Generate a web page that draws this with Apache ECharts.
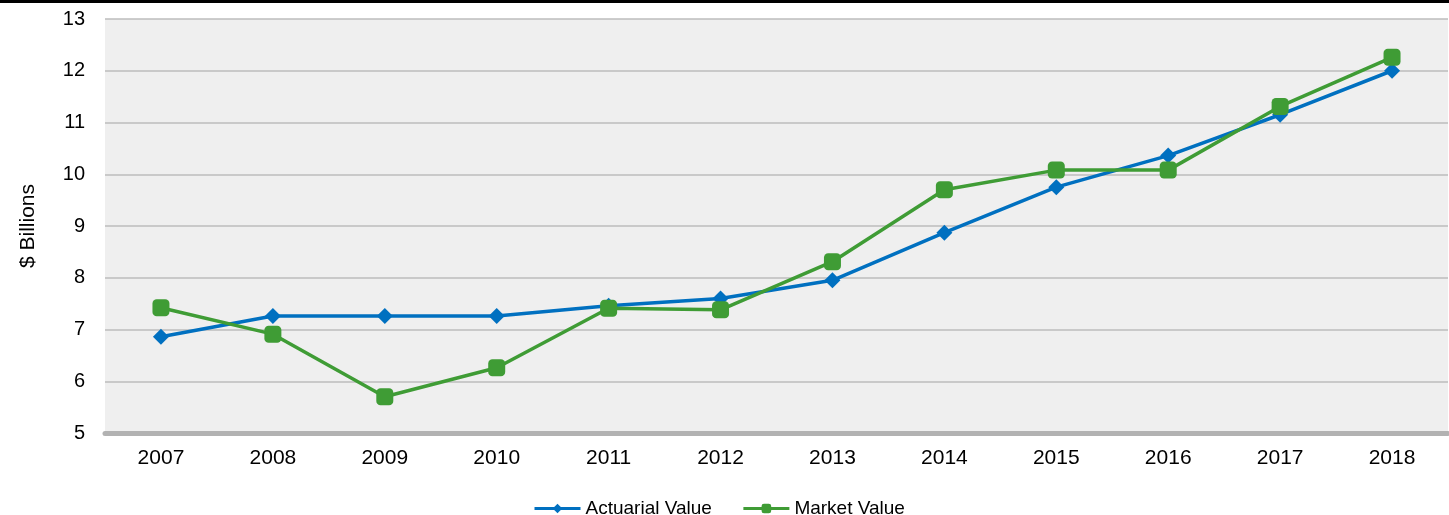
<!DOCTYPE html>
<html>
<head>
<meta charset="utf-8">
<script src="https://cdn.jsdelivr.net/npm/echarts@6/dist/echarts.min.js"></script>
<style>
  html, body { margin: 0; padding: 0; background: #ffffff; }
  #chart { width: 1449px; height: 515px; }
</style>
</head>
<body>
<div id="chart"></div>
<script>
// Fund assets, $ billions, by year
const years = ['2007', '2008', '2009', '2010', '2011', '2012', '2013', '2014', '2015', '2016', '2017', '2018'];
const actuarialValue = [6.86, 7.26, 7.26, 7.26, 7.46, 7.60, 7.95, 8.87, 9.75, 10.36, 11.15, 12.00];
const marketValue = [7.42, 6.91, 5.70, 6.26, 7.41, 7.38, 8.31, 9.70, 10.08, 10.08, 11.31, 12.26];
const yTicks = { min: 5, max: 13, interval: 1 };
const seriesNames = ['Actuarial Value', 'Market Value'];

const FONT = '"Liberation Sans", Arial, sans-serif';
const BLUE = '#0070C0';
const GREEN = '#3F9C35';

const chart = echarts.init(document.getElementById('chart'), null, { renderer: 'canvas' });

chart.setOption({
  animation: false,
  backgroundColor: '#ffffff',
  textStyle: { fontFamily: FONT, color: '#000000' },
  graphic: [
    {
      type: 'rect',
      left: 0, top: 0,
      shape: { width: 1449, height: 3 },
      style: { fill: '#000000' },
      z: 10
    }
  ],
  grid: {
    left: 105, right: 1, top: 19, bottom: 82,
    show: true,
    backgroundColor: '#EFEFEF',
    borderWidth: 0
  },
  legend: {
    top: 494,
    left: 528,
    itemWidth: 46,
    itemHeight: 12,
    itemGap: 30,
    lineStyle: { width: 3 },
    textStyle: { fontFamily: FONT, fontSize: 19, color: '#000000' },
    data: seriesNames
  },
  xAxis: {
    type: 'category',
    data: years,
    boundaryGap: true,
    axisLine: { show: true, onZero: false, lineStyle: { color: '#B2B2B2', width: 5 } },
    axisTick: { show: false },
    axisLabel: { fontFamily: FONT, fontSize: 21, color: '#000000', margin: 15 },
    splitLine: { show: false }
  },
  yAxis: {
    type: 'value',
    min: yTicks.min,
    max: yTicks.max,
    interval: yTicks.interval,
    name: '$ Billions',
    nameLocation: 'middle',
    nameGap: 66,
    nameRotate: 90,
    nameTextStyle: { fontFamily: FONT, fontSize: 21, color: '#000000' },
    axisLine: { show: false },
    axisTick: { show: false },
    axisLabel: { fontFamily: FONT, fontSize: 20, color: '#000000', margin: 20 },
    splitLine: { show: true, lineStyle: { color: '#BDBDBD', width: 1.5 } }
  },
  series: [
    {
      name: seriesNames[0],
      type: 'line',
      data: actuarialValue,
      symbol: 'diamond',
      symbolSize: 16,
      showAllSymbol: true,
      lineStyle: { color: BLUE, width: 3.5 },
      itemStyle: { color: BLUE },
      z: 3
    },
    {
      name: seriesNames[1],
      type: 'line',
      data: marketValue,
      symbol: 'roundRect',
      symbolSize: 17,
      showAllSymbol: true,
      lineStyle: { color: GREEN, width: 3.5 },
      itemStyle: { color: GREEN },
      z: 4
    }
  ]
});
</script>
</body>
</html>
